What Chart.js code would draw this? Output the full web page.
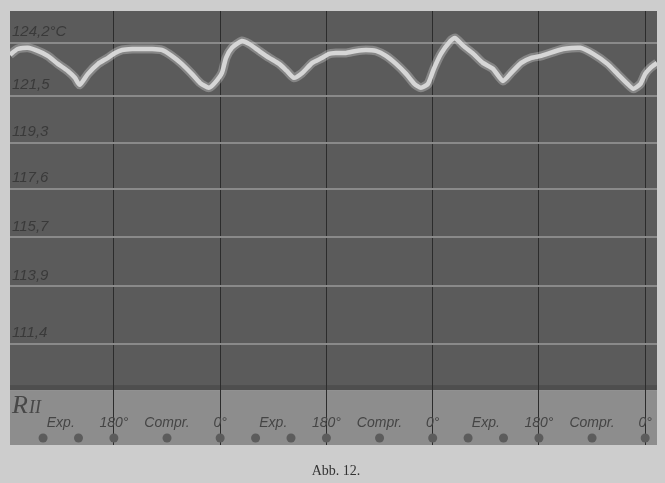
<!DOCTYPE html>
<html><head><meta charset="utf-8">
<script src="https://cdn.jsdelivr.net/npm/chart.js@4/dist/chart.umd.min.js"></script>
<style>html,body{margin:0;padding:0;background:#cdcdcd;overflow:hidden}#wrap{width:665px;height:483px}</style>
</head><body><div id="wrap"><canvas id="c" width="665" height="483"></canvas></div>
<script>
// crank angle (cumulative degrees) and recorded temperature (°C)
const CRANK_DEG = [4,17,34,51,68,85,102,114,122,136,153,170,182,194,211,227,244,261,278,295,312,326,341,351,363,370,380,397,409,426,443,460,473,485,499,516,533,544,556,573,590,607,624,641,658,675,689,700,712,722,734,750,758,772,789,805,822,839,853,870,887,904,941,970,992,1016,1033,1050,1060,1072,1080,1089,1100];
const TEMP_C = [123.6,123.89,123.95,123.79,123.54,123.13,122.77,122.42,122.06,122.62,123.13,123.44,123.69,123.84,123.89,123.89,123.89,123.84,123.54,123.13,122.62,122.16,121.91,122.16,122.67,123.44,123.95,124.3,124.15,123.79,123.44,123.13,122.77,122.42,122.67,123.18,123.44,123.64,123.69,123.69,123.79,123.84,123.79,123.54,123.13,122.62,122.11,121.91,122.11,122.88,123.64,124.3,124.45,124.05,123.64,123.18,122.88,122.26,122.67,123.18,123.44,123.54,123.89,123.95,123.64,123.13,122.62,122.11,121.86,122.11,122.62,122.93,123.18];
// recorder calibration: temperature marks and their deflection on the record
const CAL_TEMPS = [124.2,121.5,119.3,117.6,115.7,113.9,111.4];
const CAL_DEFL  = [32,85,132,178,227,276,334];
const Y_TICK_LABELS = ['124,2°C','121,5','119,3','117,6','115,7','113,9','111,4'];
const X_TICK_DEG = [90,180,270,360,450,540,630,720,810,900,990,1080];
const X_TICK_LABELS = ['Exp.','180°','Compr.','0°','Exp.','180°','Compr.','0°','Exp.','180°','Compr.','0°'];
const MARK_DEG = [60,120,180,270,360,420,480,540,630,720,780,840,900,990,1080];
const RECORD_LABEL = ['R','II'];
const CAPTION = 'Abb. 12.';

function tempToDefl(t){
  let i = 0;
  while (i < CAL_TEMPS.length - 2 && t < CAL_TEMPS[i+1]) i++;
  const t0 = CAL_TEMPS[i], t1 = CAL_TEMPS[i+1], d0 = CAL_DEFL[i], d1 = CAL_DEFL[i+1];
  return d0 + (t - t0) * (d1 - d0) / (t1 - t0);
}
const curve = CRANK_DEG.map((x,i)=>({x, y: tempToDefl(TEMP_C[i])}));
const marks = MARK_DEG.map(x=>({x, y: 428}));

const bgPlugin = {
  id:'bg',
  beforeDraw(chart){
    const {ctx, chartArea:a, scales:{y}} = chart;
    ctx.save();
    ctx.fillStyle = '#cdcdcd';
    ctx.fillRect(0,0,chart.width,chart.height);
    const db = y.getPixelForValue(380);
    ctx.fillStyle = '#5b5b5b';
    ctx.fillRect(a.left, a.top, a.right-a.left, db-a.top);
    ctx.fillStyle = '#4e4e4e';
    ctx.fillRect(a.left, db-5, a.right-a.left, 5);
    ctx.fillStyle = '#8d8d8d';
    ctx.fillRect(a.left, db, a.right-a.left, a.bottom-db);
    ctx.restore();
  },
  afterDraw(chart){
    const {ctx, chartArea:a} = chart;
    ctx.save();
    ctx.fillStyle = '#474747';
    ctx.textBaseline = 'alphabetic';
    ctx.font = 'italic 26px "Liberation Serif"';
    ctx.fillText(RECORD_LABEL[0], a.left+2, 413);
    ctx.font = 'italic 18px "Liberation Serif"';
    ctx.fillText(RECORD_LABEL[1], a.left+19, 413);
    ctx.fillStyle = '#333';
    ctx.font = '14px "Liberation Serif"';
    ctx.textAlign = 'center';
    ctx.fillText(CAPTION, 336, 475);
    ctx.restore();
  }
};

new Chart(document.getElementById('c'), {
  type:'line',
  data:{datasets:[
    {data:curve, borderColor:'rgba(215,215,215,0.35)', borderWidth:9, pointRadius:0, tension:0.2, fill:false},
    {data:curve, borderColor:'#d6d6d6', borderWidth:4.5, pointRadius:0, tension:0.2, fill:false},
    {type:'scatter', data:marks, pointRadius:4.5, pointBackgroundColor:'#5c5c5c', pointBorderWidth:0, showLine:false}
  ]},
  options:{
    responsive:false, animation:false, devicePixelRatio:1,
    layout:{padding:{left:10,right:8,top:10,bottom:38}},
    plugins:{legend:{display:false}, tooltip:{enabled:false}},
    scales:{
      x:{type:'linear', min:4, max:1100, position:{y:400},
        afterBuildTicks(s){ s.ticks = X_TICK_DEG.map(v=>({value:v})); },
        border:{display:false},
        grid:{drawTicks:false, lineWidth:1, color:(c)=> (c.tick && c.tick.value % 180 === 0) ? '#2c2c2c' : 'rgba(0,0,0,0)'},
        ticks:{autoSkip:false, maxRotation:0, padding:5, color:'#454545',
          font:{family:'Liberation Sans', style:'italic', size:14},
          callback:(v,i)=>X_TICK_LABELS[i]}
      },
      y:{type:'linear', min:0, max:435, reverse:true, position:'left',
        afterBuildTicks(s){ s.ticks = CAL_DEFL.map(v=>({value:v})); },
        afterFit(s){ s.width = 0; },
        border:{display:false},
        grid:{drawTicks:false, lineWidth:2, color:'#8a8a8a'},
        ticks:{mirror:true, padding:2, labelOffset:-11, color:'#3a3a3a',
          font:{family:'Liberation Sans', style:'italic', size:15},
          callback:(v,i)=>Y_TICK_LABELS[i]}
      }
    }
  },
  plugins:[bgPlugin]
});
</script></body></html>
